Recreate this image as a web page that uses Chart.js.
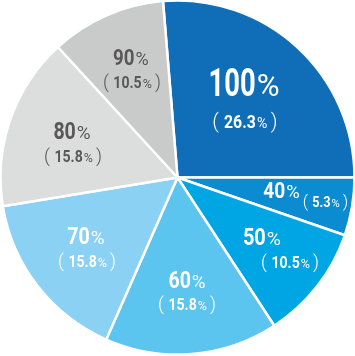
<!DOCTYPE html>
<html><head><meta charset="utf-8">
<script src="https://cdn.jsdelivr.net/npm/chart.js@4/dist/chart.umd.min.js"></script>
<style>html,body{margin:0;padding:0;background:#fff}#wrap{width:355px;height:356px}</style>
</head><body><div id="wrap"><canvas id="c"></canvas></div>
<script>
const categories = ["100%", "40%", "50%", "60%", "70%", "80%", "90%"];
const shares = [26.3, 5.3, 10.5, 15.8, 15.8, 15.8, 10.5];
const shareLabels = ["26.3", "5.3", "10.5", "15.8", "15.8", "15.8", "10.5"];

const colors = ["#106EB8", "#0B8BD0", "#00A5E3", "#5BC4EF", "#8AD1F3", "#DCDDDD", "#C9CACA"];
const textColors = ["#fff", "#fff", "#fff", "#fff", "#fff", "#595757", "#595757"];
// label placement relative to pie centre, in units of the pie radius (baselines)
const labelStyle = [
  {m: [0.376, -0.463], s: [0.381, -0.277], main: 38, sub: 18, mScale: 0.72},
  {m: [0.588, 0.113], s: [0.836, 0.166], main: 22.5, sub: 14.5, mScale: 0.85},
  {m: [0.477, 0.384], s: [0.636, 0.514], main: 23.5, sub: 16, mScale: 0.85},
  {m: [0.054, 0.627], s: [0.054, 0.751], main: 23, sub: 16, mScale: 0.85},
  {m: [-0.517, 0.373], s: [-0.511, 0.508], main: 23, sub: 16, mScale: 0.85},
  {m: [-0.596, -0.220], s: [-0.590, -0.085], main: 23, sub: 16, mScale: 0.85},
  {m: [-0.263, -0.633], s: [-0.257, -0.503], main: 22, sub: 16, mScale: 0.85}
];
const FONT = "Roboto, 'Liberation Sans', sans-serif";

// part: [text, size, weight, scaleX, padBefore, padAfter]
function segs(i, st) {
  const num = categories[i].replace('%', '');
  const u = st.sub;
  return {
    main: [[num, st.main, 700, st.mScale, 0, 1], ['%', st.main * 0.82, 400, 1, 0, 0]],
    sub: [['(', u * 1.15, 300, 1, 0, u * 0.28], [shareLabels[i], u, 700, 0.88, 0, 1],
          ['%', u * 0.78, 400, 1, 0, u * 0.2], [')', u * 1.15, 300, 1, 0, 0]]
  };
}
function setFont(ctx, s, wt) { ctx.font = wt + ' ' + s + 'px ' + FONT; }
function widthOf(ctx, parts) {
  let w = 0;
  for (const [t, s, wt, sx, pb, pa] of parts) { setFont(ctx, s, wt); w += pb + ctx.measureText(t).width * sx + pa; }
  return w;
}
function drawParts(ctx, parts, xc, y, color) {
  let x = xc - widthOf(ctx, parts) / 2;
  ctx.fillStyle = color; ctx.textBaseline = 'alphabetic'; ctx.textAlign = 'left';
  for (const [t, s, wt, sx, pb, pa] of parts) {
    setFont(ctx, s, wt);
    x += pb;
    ctx.save();
    ctx.translate(x, y);
    ctx.scale(sx, 1);
    ctx.fillText(t, 0, 0);
    ctx.restore();
    x += ctx.measureText(t).width * sx + pa;
  }
}

const labelPlugin = {
  id: 'sliceLabels',
  afterDatasetsDraw(chart) {
    const ctx = chart.ctx;
    const meta = chart.getDatasetMeta(0);
    meta.data.forEach((arc, i) => {
      const st = labelStyle[i];
      const R = arc.outerRadius;
      const s = segs(i, st);
      ctx.save();
      drawParts(ctx, s.main, arc.x + st.m[0] * R, arc.y + st.m[1] * R, textColors[i]);
      drawParts(ctx, s.sub, arc.x + st.s[0] * R, arc.y + st.s[1] * R, textColors[i]);
      ctx.restore();
    });
  }
};

new Chart(document.getElementById('c'), {
  type: 'pie',
  data: {
    labels: categories,
    datasets: [{
      data: shares,
      backgroundColor: colors,
      borderColor: '#ffffff',
      borderWidth: 2.5,
      hoverOffset: 0,
      offset: 0
    }]
  },
  options: {
    responsive: true,
    maintainAspectRatio: false,
    animation: false,
    rotation: -4.7,
    radius: 177,
    layout: {padding: {top: -1, bottom: 1, left: 0, right: 0}},
    plugins: {legend: {display: false}, tooltip: {enabled: false}}
  },
  plugins: [labelPlugin]
});
</script>
</body></html>
